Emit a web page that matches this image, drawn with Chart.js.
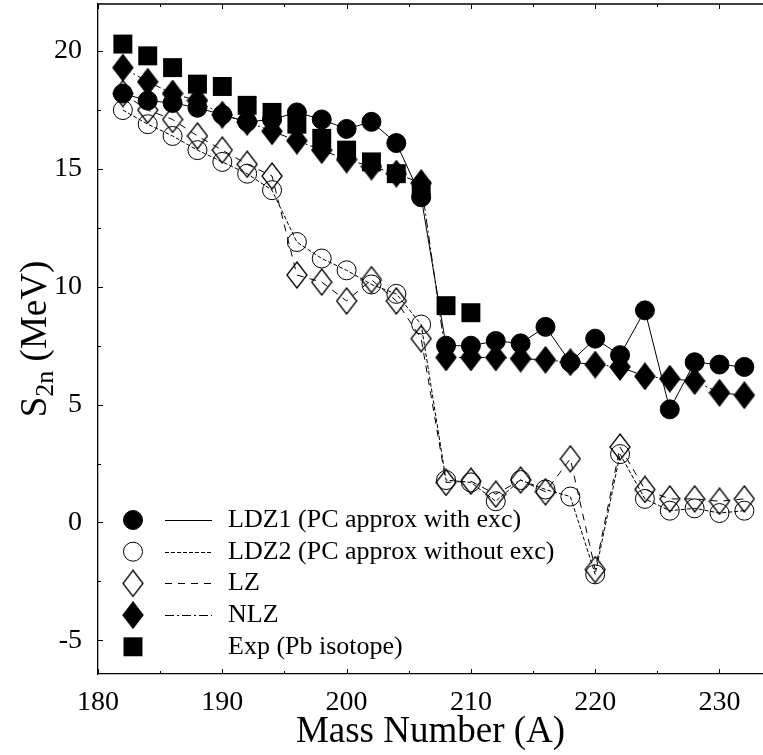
<!DOCTYPE html>
<html>
<head>
<meta charset="utf-8">
<script src="https://cdn.jsdelivr.net/npm/chart.js@4.4.1/dist/chart.umd.min.js"></script>
<style>
  html, body { margin: 0; padding: 0; background: #fff; }
  #wrap { width: 763px; height: 755px; }
</style>
</head>
<body>
<div id="wrap"><canvas id="s2nChart" width="763" height="755"></canvas></div>
<script>
// mass numbers (A) for the calculations and the measured Pb isotopes
let massNumbers = [182, 184, 186, 188, 190, 192, 194, 196, 198, 200, 202, 204, 206,
                   208, 210, 212, 214, 216, 218, 220, 222, 224, 226, 228, 230, 232];
let massExp = [182, 184, 186, 188, 190, 192, 194, 196, 198, 200, 202, 204, 206, 208, 210];

// S2n values (MeV)
let ldz1 = [18.2, 17.9, 17.8, 17.6, 17.3, 17.0, 17.1, 17.4, 17.1, 16.7, 17.0, 16.1, 13.8,
            7.5, 7.5, 7.7, 7.6, 8.3, 6.8, 7.8, 7.1, 9.0, 4.8, 6.8, 6.7, 6.6];
let ldz2 = [17.5, 16.9, 16.4, 15.8, 15.3, 14.8, 14.1, 11.9, 11.2, 10.7, 10.1, 9.7, 8.4,
            1.8, 1.7, 0.9, 1.8, 1.4, 1.1, -2.2, 2.9, 1.0, 0.5, 0.6, 0.4, 0.5];
let lz   = [18.2, 17.5, 17.1, 16.4, 15.8, 15.2, 14.7, 10.5, 10.2, 9.4, 10.3, 9.4, 7.8,
            1.7, 1.75, 1.2, 1.8, 1.3, 2.7, -2.0, 3.2, 1.4, 1.0, 1.0, 0.9, 1.0];
let nlz  = [19.3, 18.7, 18.2, 17.9, 17.3, 17.0, 16.6, 16.2, 15.8, 15.4, 15.1, 14.8, 14.4,
            7.0, 7.0, 7.0, 6.95, 6.9, 6.8, 6.7, 6.6, 6.2, 6.1, 6.0, 5.5, 5.4];
let expPb = [20.3, 19.8, 19.3, 18.6, 18.5, 17.7, 17.4, 16.9, 16.3, 15.8, 15.3, 14.8, 14.1, 9.2, 8.9];

let seriesNames = ['LDZ1 (PC approx with exc)', 'LDZ2 (PC approx without exc)', 'LZ', 'NLZ', 'Exp (Pb isotope)'];
let xTickLabels = [180, 190, 200, 210, 220, 230];
let yTickLabels = [-5, 0, 5, 10, 15, 20];

const serif = 'Liberation Serif';

function toPoints(xs, ys) {
  return ys.map((y, i) => ({ x: xs[i], y: y }));
}

// diamonds in the figure are taller than wide, so draw them on a small canvas
function diamondStyle(filled) {
  const c = document.createElement('canvas');
  c.width = 22; c.height = 28;
  const g = c.getContext('2d');
  g.beginPath();
  g.moveTo(11, 1); g.lineTo(21, 14); g.lineTo(11, 27); g.lineTo(1, 14);
  g.closePath();
  if (filled) { g.fillStyle = '#000'; g.fill(); }
  g.lineWidth = 1.3;
  g.strokeStyle = '#000';
  g.stroke();
  return c;
}
const openDiamond = diamondStyle(false);
const fullDiamond = diamondStyle(true);

// fixed axis boxes, no auto padding for the labels
function fixBox(size) {
  return function(scale) {
    if (scale.isHorizontal()) scale.height = size; else scale.width = size;
    scale.paddingTop = 0; scale.paddingBottom = 0;
    scale.paddingLeft = 0; scale.paddingRight = 0;
  };
}

// inward ticks on bottom, top and left + top frame line
const frameTicks = {
  id: 'frameTicks',
  afterDraw(chart) {
    const ctx = chart.ctx, a = chart.chartArea;
    const xs = chart.scales.x, ys = chart.scales.y;
    ctx.save();
    ctx.strokeStyle = '#000';
    ctx.lineWidth = 1.3;
    ctx.beginPath();
    ctx.moveTo(a.left, a.top); ctx.lineTo(a.right, a.top);
    ctx.stroke();
    ctx.lineWidth = 1;
    ctx.beginPath();
    for (let v = 180; v <= 233; v += 5) {
      const px = Math.round(xs.getPixelForValue(v)) + 0.5;
      const len = v % 10 === 0 ? 5 : 3;
      ctx.moveTo(px, a.bottom); ctx.lineTo(px, a.bottom - len);
      ctx.moveTo(px, a.top); ctx.lineTo(px, a.top + len);
    }
    for (let v = -5; v <= 22; v += 2.5) {
      const py = Math.round(ys.getPixelForValue(v)) + 0.5;
      const len = v % 5 === 0 ? 5 : 3;
      ctx.moveTo(a.left, py); ctx.lineTo(a.left + len, py);
    }
    ctx.stroke();
    ctx.restore();
  }
};

// y title with subscript: S_2n (MeV)
const yTitle = {
  id: 'yTitle',
  afterDraw(chart) {
    const ctx = chart.ctx;
    const big = '37px "' + serif + '"', small = '26px "' + serif + '"';
    ctx.save();
    ctx.fillStyle = '#000';
    ctx.textBaseline = 'alphabetic';
    ctx.font = big;
    const wS = ctx.measureText('S').width;
    const wRest = ctx.measureText(' (MeV)').width;
    ctx.font = small;
    const wSub = ctx.measureText('2n').width;
    const total = wS + wSub + wRest;
    const cy = 339;
    ctx.translate(46, cy + total / 2);
    ctx.rotate(-Math.PI / 2);
    ctx.font = big;
    ctx.fillText('S', 0, 0);
    ctx.font = small;
    ctx.fillText('2n', wS, 7);
    ctx.font = big;
    ctx.fillText(' (MeV)', wS + wSub, 0);
    ctx.restore();
  }
};

// legend in the lower left: marker, line sample, label
const boxLegend = {
  id: 'boxLegend',
  afterDraw(chart) {
    const ctx = chart.ctx;
    ctx.save();
    chart.data.datasets.forEach((ds, i) => {
      const y = 520 + i * 31.7;
      const mx = 133;
      ctx.strokeStyle = '#000';
      ctx.fillStyle = '#000';
      ctx.lineWidth = 1;
      ctx.setLineDash([]);
      if (ds.pointStyle === 'circle') {
        ctx.beginPath();
        ctx.arc(mx, y, ds.pointRadius, 0, Math.PI * 2);
        if (ds.pointBackgroundColor !== 'transparent') ctx.fill();
        ctx.stroke();
      } else if (ds.pointStyle === 'rect') {
        const h = ds.pointRadius * Math.SQRT1_2;
        ctx.fillRect(mx - h, y - h, 2 * h, 2 * h);
      } else {
        ctx.drawImage(ds.pointStyle, mx - ds.pointStyle.width / 2, y - ds.pointStyle.height / 2);
      }
      if (ds.showLine !== false) {
        ctx.setLineDash(ds.borderDash || []);
        ctx.beginPath();
        ctx.moveTo(165, Math.round(y) + 0.5);
        ctx.lineTo(212, Math.round(y) + 0.5);
        ctx.stroke();
        ctx.setLineDash([]);
      }
      ctx.font = '26px "' + serif + '"';
      ctx.textBaseline = 'middle';
      ctx.fillText(ds.label, 228, y);
    });
    ctx.restore();
  }
};

let ctx = document.getElementById('s2nChart').getContext('2d');
let s2nChart = new Chart(ctx, {
  type: 'line',
  data: {
    datasets: [{
      label: seriesNames[0],
      data: toPoints(massNumbers, ldz1),
      borderColor: '#000', borderWidth: 1, borderDash: [],
      pointStyle: 'circle', pointRadius: 9.5,
      pointBackgroundColor: '#000', pointBorderColor: '#000', pointBorderWidth: 1
    }, {
      label: seriesNames[1],
      data: toPoints(massNumbers, ldz2),
      borderColor: '#000', borderWidth: 1, borderDash: [4, 2],
      pointStyle: 'circle', pointRadius: 9.5,
      pointBackgroundColor: 'transparent', pointBorderColor: '#000', pointBorderWidth: 1
    }, {
      label: seriesNames[2],
      data: toPoints(massNumbers, lz),
      borderColor: '#000', borderWidth: 1, borderDash: [7, 6],
      pointStyle: openDiamond, pointRadius: 10
    }, {
      label: seriesNames[3],
      data: toPoints(massNumbers, nlz),
      borderColor: '#000', borderWidth: 1, borderDash: [9, 3, 2, 3],
      pointStyle: fullDiamond, pointRadius: 10
    }, {
      label: seriesNames[4],
      data: toPoints(massExp, expPb),
      showLine: false,
      pointStyle: 'rect', pointRadius: 13.4,
      pointBackgroundColor: '#000', pointBorderColor: '#000', pointBorderWidth: 0
    }]
  },
  options: {
    responsive: false,
    animation: false,
    layout: { autoPadding: false, padding: { top: 4, left: 0, right: 0, bottom: 0 } },
    elements: { line: { tension: 0, fill: false } },
    plugins: {
      legend: { display: false },
      tooltip: { enabled: false }
    },
    scales: {
      x: {
        type: 'linear',
        min: 180,
        max: 233.5,
        afterFit: fixBox(81),
        grid: { display: false, drawTicks: false },
        border: { display: true, color: '#000', width: 1.3 },
        afterBuildTicks(scale) { scale.ticks = xTickLabels.map(v => ({ value: v })); },
        ticks: {
          padding: 12, color: '#000', maxRotation: 0, autoSkip: false,
          font: { family: serif, size: 28 }
        },
        title: {
          display: true, text: 'Mass Number (A)', color: '#000',
          font: { family: serif, size: 37 }, padding: { top: 0, bottom: 1 }
        }
      },
      y: {
        type: 'linear',
        min: -6.43,
        max: 22,
        afterFit: fixBox(98),
        grid: { display: false, drawTicks: false },
        border: { display: true, color: '#000', width: 1.3 },
        afterBuildTicks(scale) { scale.ticks = yTickLabels.map(v => ({ value: v })); },
        ticks: {
          padding: 16, color: '#000',
          font: { family: serif, size: 28 }
        }
      }
    }
  },
  plugins: [frameTicks, yTitle, boxLegend]
});
</script>
</body>
</html>
